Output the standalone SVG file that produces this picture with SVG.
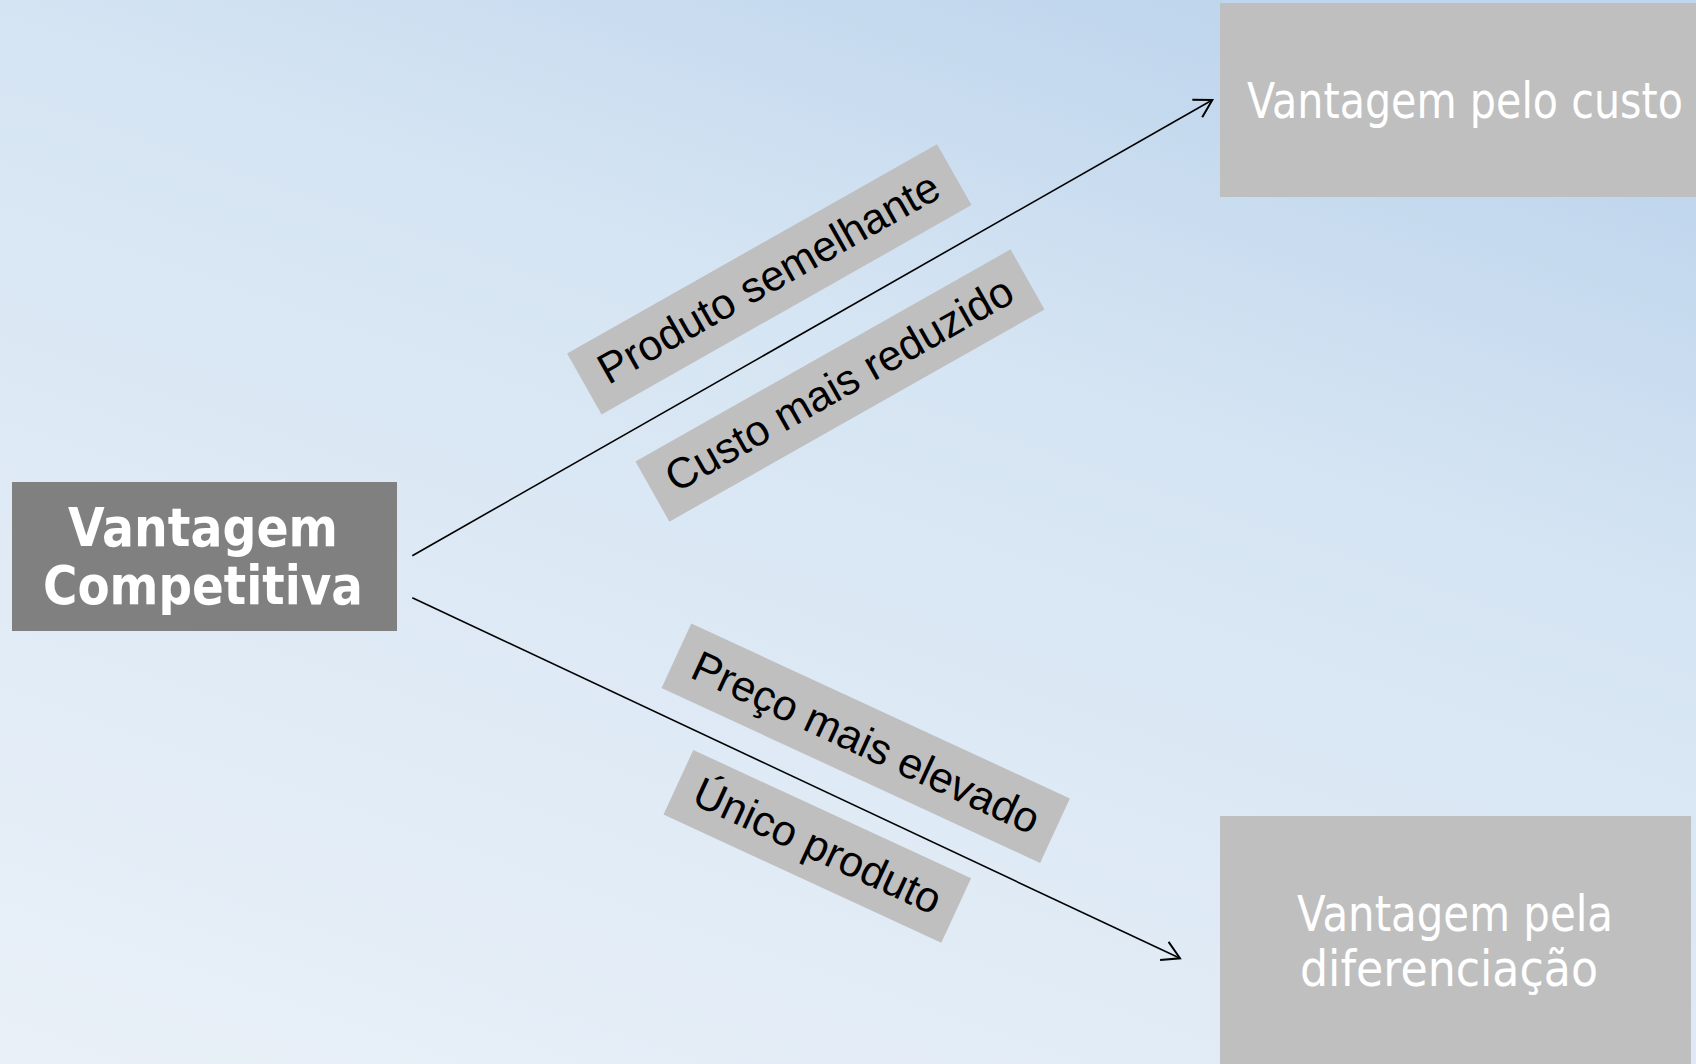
<svg xmlns="http://www.w3.org/2000/svg" width="1696" height="1064" viewBox="0 0 1696 1064">
  <defs>
    <linearGradient id="bg" gradientUnits="userSpaceOnUse" x1="1150" y1="0" x2="700" y2="1300">
      <stop offset="0" stop-color="#c0d6ed"/>
      <stop offset="0.3" stop-color="#d6e5f3"/>
      <stop offset="1" stop-color="#e9f0f8"/>
    </linearGradient>
    <marker id="arrow" markerUnits="userSpaceOnUse" markerWidth="30" markerHeight="30" viewBox="-25 -15 30 30" refX="0" refY="0" orient="auto">
      <path d="M -17.3 -10 L 0 0 L -17.3 10" fill="none" stroke="#000" stroke-width="2"/>
    </marker>
    <style>
      .main { fill: #808080; }
      .box { fill: #bfbfbf; }
      .mainText { font-family: "DejaVu Sans", Verdana, sans-serif; font-weight: bold; font-size: 54px; fill: #ffffff; text-anchor: middle; }
      .boxText { font-family: "DejaVu Sans", Tahoma, sans-serif; font-size: 49px; fill: #ffffff; text-anchor: middle; }
      .lbl { fill: #bfbfbf; }
      .lblText { font-family: "Liberation Sans", Arial, sans-serif; font-size: 43px; fill: #000000; text-anchor: middle; }
      .conn { stroke: #000; stroke-width: 1.6; fill: none; marker-end: url(#arrow); }
    </style>
  </defs>
  <rect x="0" y="0" width="1696" height="1064" fill="url(#bg)"/>

  <g id="connectors">
    <line class="conn" x1="412.3" y1="555.7" x2="1212.3" y2="100"/>
    <line class="conn" x1="412.3" y1="597.7" x2="1180" y2="958.3"/>
  </g>

  <g id="node-vantagem-competitiva">
    <rect class="main" x="12" y="482" width="385" height="149"/>
    <text class="mainText" x="203" y="546" textLength="270" lengthAdjust="spacingAndGlyphs">Vantagem</text>
    <text class="mainText" x="203" y="604" textLength="320" lengthAdjust="spacingAndGlyphs">Competitiva</text>
  </g>

  <g id="node-vantagem-custo">
    <rect class="box" x="1220" y="3" width="497" height="194"/>
    <text class="boxText" x="1465" y="118" textLength="436" lengthAdjust="spacingAndGlyphs">Vantagem pelo custo</text>
  </g>

  <g id="node-vantagem-diferenciacao">
    <rect class="box" x="1220" y="816" width="471" height="250"/>
    <text class="boxText" x="1455" y="931" textLength="316" lengthAdjust="spacingAndGlyphs">Vantagem pela</text>
    <text class="boxText" x="1449" y="986" textLength="298" lengthAdjust="spacingAndGlyphs">diferenciação</text>
  </g>

  <g id="label-produto-semelhante" transform="translate(769.3 279.3) rotate(-29.5)">
    <rect class="lbl" x="-212.5" y="-35" width="425" height="70"/>
    <text class="lblText" x="0" y="13">Produto semelhante</text>
  </g>

  <g id="label-custo-reduzido" transform="translate(840 385.5) rotate(-29.5)">
    <rect class="lbl" x="-215.5" y="-34.5" width="431" height="69"/>
    <text class="lblText" x="0" y="13">Custo mais reduzido</text>
  </g>

  <g id="label-preco-elevado" transform="translate(865.7 743.2) rotate(24.8)">
    <rect class="lbl" x="-208.5" y="-35.5" width="417" height="71"/>
    <text class="lblText" x="0" y="14">Preço mais elevado</text>
  </g>

  <g id="label-unico-produto" transform="translate(817.3 846.4) rotate(24.8)">
    <rect class="lbl" x="-153" y="-35.5" width="306" height="71"/>
    <text class="lblText" x="0" y="14">Único produto</text>
  </g>
</svg>
